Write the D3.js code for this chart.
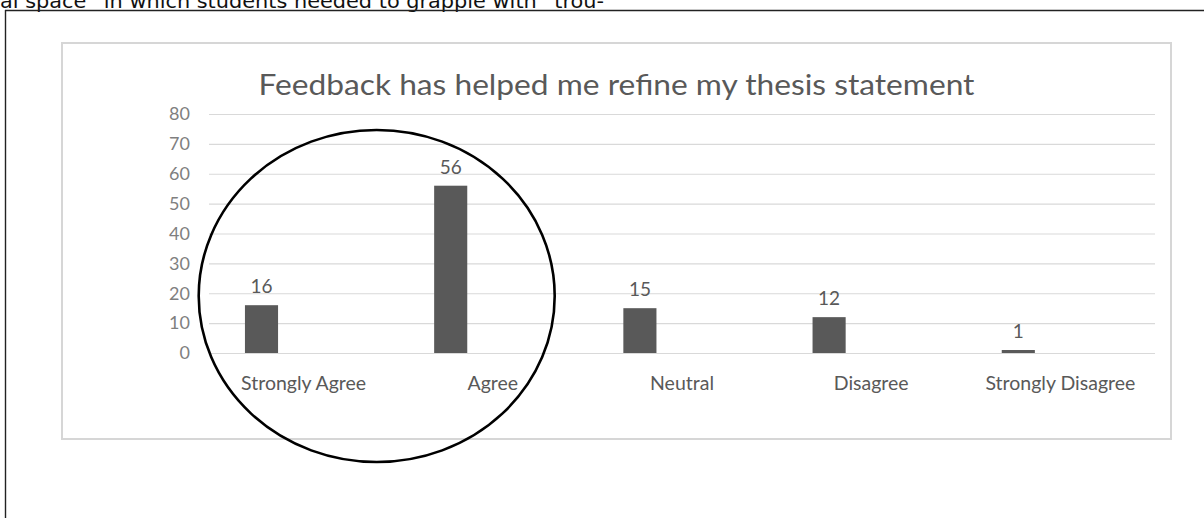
<!DOCTYPE html>
<html>
<head>
<meta charset="utf-8">
<script src="https://cdn.jsdelivr.net/npm/d3@7"></script>
<style>
  html, body { margin: 0; padding: 0; background: #fff; }
  svg { display: block; }
</style>
</head>
<body>
<svg id="chart" width="1204" height="518"></svg>
<script>
const categories = ["Strongly Agree", "Agree", "Neutral", "Disagree", "Strongly Disagree"];
const values = [16, 56, 15, 12, 1];
const yTicks = [0, 10, 20, 30, 40, 50, 60, 70, 80];
const title = "Feedback has helped me refine my thesis statement";
const headerText = "al space\u201d in which students needed to grapple with \u201ctrou-";

const svg = d3.select("#chart");
const W = 1204, H = 518;

// page text fragment above the frame (clipped at top, as in the source page)
svg.append("text")
  .attr("x", 0).attr("y", 8)
  .attr("font-family", "DejaVu Sans, sans-serif")
  .attr("font-size", 20)
  .attr("fill", "#111")
  .attr("textLength", 604)
  .attr("lengthAdjust", "spacingAndGlyphs")
  .text(headerText);

// outer frame lines
svg.append("line").attr("x1", 5).attr("x2", W).attr("y1", 10.5).attr("y2", 10.5)
  .attr("stroke", "#222").attr("stroke-width", 1.6);
svg.append("line").attr("x1", 5.5).attr("x2", 5.5).attr("y1", 10).attr("y2", H)
  .attr("stroke", "#222").attr("stroke-width", 1.4);

// chart area box
svg.append("rect").attr("x", 62).attr("y", 43).attr("width", 1109).attr("height", 396)
  .attr("fill", "#fff").attr("stroke", "#d6d6d6").attr("stroke-width", 2);

const x = d3.scaleBand().domain(categories).range([209, 1155]).padding(0);
const y = d3.scaleLinear().domain([0, 80]).range([353, 114]);

// gridlines
const yAxis = d3.axisLeft(y).tickValues(yTicks).tickSize(-(1155 - 209)).tickPadding(19);
const gy = svg.append("g").attr("transform", "translate(209,0)").call(yAxis);
gy.select(".domain").remove();
gy.selectAll(".tick line").attr("stroke", "#d9d9d9").attr("stroke-width", 1.2);
gy.selectAll(".tick text")
  .attr("font-family", "Lato, 'Open Sans', sans-serif")
  .attr("font-size", 18)
  .attr("fill", "#7f7f7f");

// bars
const bw = x.bandwidth();
svg.append("g").selectAll("rect").data(categories).join("rect")
  .attr("x", (d) => x(d) + bw * 0.19)
  .attr("width", bw * 0.175)
  .attr("y", (d, i) => y(values[i]))
  .attr("height", (d, i) => y(0) - y(values[i]))
  .attr("fill", "#595959");

// value labels
svg.append("g").selectAll("text").data(categories).join("text")
  .attr("x", (d) => x(d) + bw * 0.19 + bw * 0.175 / 2)
  .attr("y", (d, i) => y(values[i]) - 12)
  .attr("text-anchor", "middle")
  .attr("font-family", "Lato, 'Open Sans', sans-serif")
  .attr("font-size", 19)
  .attr("fill", "#595959")
  .text((d, i) => values[i]);

// category labels
const xAxis = d3.axisBottom(x).tickSize(0).tickPadding(0);
const gx = svg.append("g").attr("transform", "translate(0,390)").call(xAxis);
gx.select(".domain").remove();
gx.selectAll(".tick text")
  .attr("dy", 0)
  .attr("font-family", "Lato, 'Open Sans', sans-serif")
  .attr("font-size", 19.5)
  .attr("fill", "#595959");

// title
svg.append("text")
  .attr("x", 616.5).attr("y", 95)
  .attr("text-anchor", "middle")
  .attr("font-family", "Lato, 'Open Sans', sans-serif")
  .attr("font-size", 28)
  .attr("fill", "#595959")
  .attr("textLength", 716)
  .attr("lengthAdjust", "spacingAndGlyphs")
  .text(title);

// hand-drawn emphasis ellipse around the first two categories
const cx = (x(categories[0]) + x(categories[1]) + bw) / 2 - 21.5;
svg.append("ellipse")
  .attr("cx", cx).attr("cy", 296)
  .attr("rx", 178).attr("ry", 166)
  .attr("fill", "none").attr("stroke", "#000").attr("stroke-width", 2.6);
</script>
</body>
</html>
